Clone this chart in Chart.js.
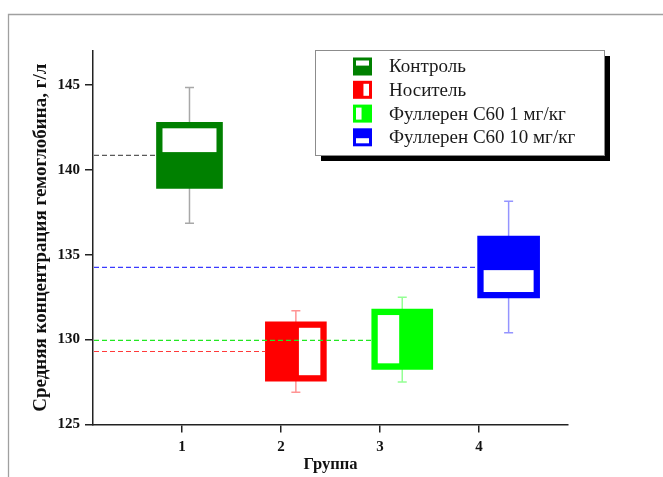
<!DOCTYPE html>
<html>
<head>
<meta charset="utf-8">
<script src="https://cdn.jsdelivr.net/npm/chart.js@4/dist/chart.umd.min.js"></script>
<style>
  html, body { margin: 0; padding: 0; background: #fff; }
  canvas { display: block; }
</style>
</head>
<body>
<canvas id="c" width="663" height="477"></canvas>
<script>
// Hemoglobin concentration by group (g/l)
const groupLabels = ['1', '2', '3', '4'];
const seriesNames = ['Контроль', 'Носитель', 'Фуллерен С60 1 мг/кг', 'Фуллерен С60 10 мг/кг'];
const boxPos      = [1.075, 2.15, 3.225, 4.3];
const q1          = [138.9, 127.55, 128.25, 132.45];
const q3          = [142.8, 131.05, 131.8, 136.1];
const whiskerLow  = [136.85, 126.9, 127.5, 130.4];
const whiskerHigh = [144.85, 131.7, 132.5, 138.15];
const means       = [140.85, 129.3, 129.95, 134.25];
const yTicks      = [125, 130, 135, 140, 145];
const xTicks      = [1, 2, 3, 4];

// Styling
const boxColors     = ['#008000', '#ff0000', '#00ff00', '#0000ff'];
const whiskerColors = ['#a8a8a8', '#ff9494', '#94ff94', '#9494ff'];
const meanColors    = ['#5a5a5a', '#ff3a3a', '#22e822', '#3a3aff'];
const hollowSide    = ['top', 'right', 'left', 'bottom'];
const boxWidthPx    = [66, 61, 61, 62];

const SERIF = '"Liberation Serif", "Times New Roman", serif';
Chart.defaults.font.family = SERIF;
Chart.defaults.color = '#111';

// White window inside a filled box, on one side of it
function drawHollow(ctx, l, t, r, b, side, inset, frac) {
  const w = r - l, h = b - t;
  let x0 = l + inset, x1 = r - inset, y0 = t + inset, y1 = b - inset;
  if (side === 'top') y1 = t + h * frac;
  if (side === 'bottom') y0 = b - h * frac;
  if (side === 'left') x1 = l + w * frac;
  if (side === 'right') x0 = r - w * frac;
  ctx.fillStyle = '#fff';
  ctx.fillRect(x0, y0, x1 - x0, y1 - y0);
}

const boxDecor = {
  id: 'boxDecor',
  beforeDraw(chart) {
    // outer frame (top and left edges)
    const ctx = chart.ctx;
    ctx.save();
    ctx.strokeStyle = '#a0a0a0';
    ctx.lineWidth = 1.3;
    ctx.beginPath();
    ctx.moveTo(8.5, 477);
    ctx.lineTo(8.5, 14.5);
    ctx.lineTo(663, 14.5);
    ctx.stroke();
    ctx.restore();
  },
  beforeDatasetsDraw(chart) {
    const ctx = chart.ctx, ys = chart.scales.y, xs = chart.scales.x;
    ctx.save();
    boxPos.forEach((p, i) => {
      const x = xs.getPixelForValue(p);
      const yh = ys.getPixelForValue(whiskerHigh[i]);
      const yl = ys.getPixelForValue(whiskerLow[i]);
      ctx.strokeStyle = whiskerColors[i];
      ctx.lineWidth = 1.5;
      ctx.beginPath();
      ctx.moveTo(x, yh); ctx.lineTo(x, yl);
      ctx.moveTo(x - 4.5, yh); ctx.lineTo(x + 4.5, yh);
      ctx.moveTo(x - 4.5, yl); ctx.lineTo(x + 4.5, yl);
      ctx.stroke();
    });
    ctx.restore();
  },
  afterDatasetsDraw(chart) {
    const ctx = chart.ctx, ys = chart.scales.y, area = chart.chartArea;
    ctx.save();
    chart.data.datasets.forEach((ds, i) => {
      const bar = chart.getDatasetMeta(i).data[0];
      const { x, y, base, width } = bar.getProps(['x', 'y', 'base', 'width'], true);
      const l = x - width / 2, r = x + width / 2;
      const t = Math.min(y, base), b = Math.max(y, base);
      drawHollow(ctx, l, t, r, b, hollowSide[i], 6, 0.45);
    });
    // dashed mean lines from the axis to each box
    chart.data.datasets.forEach((ds, i) => {
      const bar = chart.getDatasetMeta(i).data[0];
      const { x, width } = bar.getProps(['x', 'width'], true);
      const ym = ys.getPixelForValue(means[i]);
      ctx.strokeStyle = meanColors[i];
      ctx.lineWidth = 1.2;
      ctx.setLineDash([5, 3]);
      ctx.beginPath();
      ctx.moveTo(area.left + 1, ym);
      ctx.lineTo(x - width / 2, ym);
      ctx.stroke();
    });
    ctx.restore();
  },
  afterDraw(chart) {
    // legend box with drop shadow
    const ctx = chart.ctx;
    const L = 315, T = 50, W = 289, H = 105;
    ctx.save();
    ctx.fillStyle = '#000';
    ctx.fillRect(L + 6, T + 6, W, H);
    ctx.fillStyle = '#fff';
    ctx.fillRect(L, T, W, H);
    ctx.strokeStyle = '#8c8c8c';
    ctx.lineWidth = 1;
    ctx.strokeRect(L + 0.5, T + 0.5, W, H);
    const rows = [66.5, 89.8, 113.6, 137.3];
    ctx.font = '19px ' + SERIF;
    ctx.textBaseline = 'middle';
    seriesNames.forEach((name, i) => {
      const cy = rows[i];
      const l = 353, r = 372, t = cy - 9, b = cy + 9;
      ctx.fillStyle = boxColors[i];
      ctx.fillRect(l, t, r - l, b - t);
      drawHollow(ctx, l, t, r, b, hollowSide[i], 3, 0.45);
      ctx.fillStyle = '#1a1a1a';
      ctx.fillText(name, 389, cy + 1);
    });
    ctx.restore();
  }
};

const datasets = seriesNames.map((name, i) => ({
  label: name,
  data: [{ x: boxPos[i], y: [q1[i], q3[i]] }],
  backgroundColor: boxColors[i],
  borderWidth: 0,
  barThickness: boxWidthPx[i],
  grouped: false
}));

new Chart(document.getElementById('c'), {
  type: 'bar',
  data: { datasets },
  plugins: [boxDecor],
  options: {
    responsive: false,
    animation: false,
    devicePixelRatio: 1,
    layout: { padding: { top: 51, right: 95, left: 0, bottom: 0 } },
    plugins: { legend: { display: false }, tooltip: { enabled: false } },
    scales: {
      x: {
        type: 'linear',
        min: 0.1,
        max: 4.9,
        offset: false,
        grid: { offset: false, drawOnChartArea: false, drawTicks: true, tickLength: 8, color: '#222', lineWidth: 1.5 },
        border: { display: true, color: '#222', width: 1.5 },
        afterBuildTicks(s) { s.ticks = xTicks.map(v => ({ value: v })); },
        afterFit(s) { s.height = 52.5; },
        ticks: {
          padding: 6,
          maxRotation: 0,
          font: { size: 15, weight: 'bold' },
          color: '#111',
          callback: v => groupLabels[xTicks.indexOf(v)]
        },
        title: {
          display: true,
          text: 'Группа',
          font: { size: 16.5, weight: 'bold' },
          color: '#111',
          padding: { top: 0, bottom: 2 }
        }
      },
      y: {
        type: 'linear',
        min: 125,
        max: 147,
        grid: { drawOnChartArea: false, drawTicks: true, tickLength: 8, color: '#222', lineWidth: 1.5 },
        border: { display: true, color: '#222', width: 1.5 },
        afterBuildTicks(s) { s.ticks = yTicks.map(v => ({ value: v })); },
        afterFit(s) { s.width = 93; },
        ticks: {
          padding: 5,
          font: { size: 15, weight: 'bold' },
          color: '#111',
          callback: v => String(v)
        },
        title: {
          display: true,
          text: 'Средняя концентрация гемоглобина, г/л',
          font: { size: 19, weight: 'bold' },
          color: '#111',
          padding: { top: 30, bottom: 0 }
        }
      }
    }
  }
});
</script>
</body>
</html>
